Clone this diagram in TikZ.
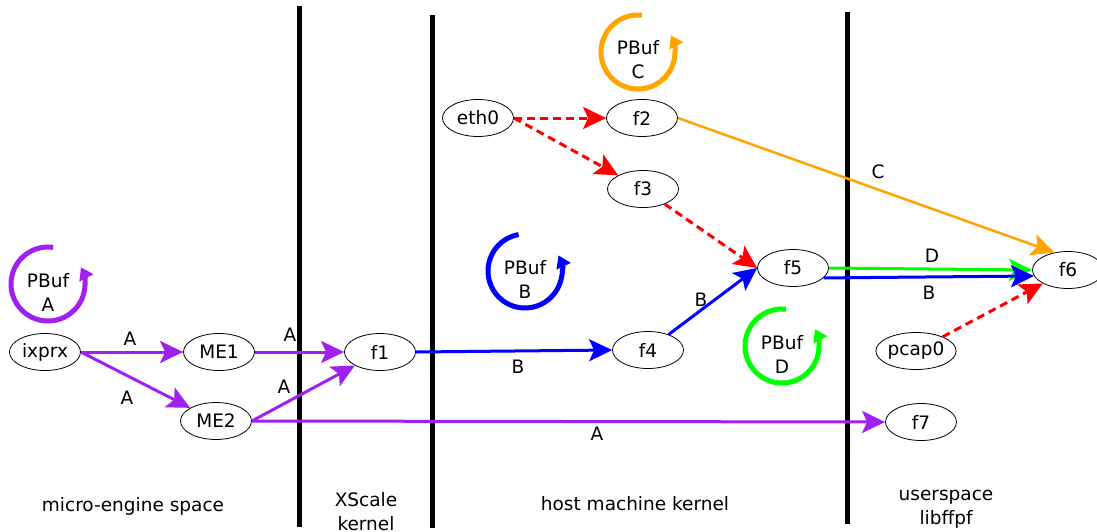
\documentclass[tikz,border=0pt]{standalone}
\usepackage{fontspec}
\setmainfont{DejaVu Sans}
\usetikzlibrary{arrows.meta,shapes.geometric}
\definecolor{cpurple}{HTML}{A020F0}
\definecolor{cblue}{HTML}{0000FF}
\definecolor{cred}{HTML}{FF0000}
\definecolor{corange}{HTML}{FFA500}
\definecolor{cgreen}{HTML}{00FF00}
\newcommand\pbufring[6]{% color, x, y, label, start, end (visual degrees)
  \draw[ring, #1] (#2,#3) ++(-#5:37) arc[start angle=-#5, end angle=-#6, radius=37];
  \node[ringtext] at (#2,#3+8) {PBuf\\#4};
}
\begin{document}
\begin{tikzpicture}[x=1pt,y=-1pt,
  font=\fontsize{18.5}{24}\selectfont,
  nd/.style={draw, ellipse, minimum width=71pt, minimum height=37pt, inner sep=0pt, line width=0.8pt},
  ed/.style={line width=3pt, -{Stealth[length=23pt,width=22pt,inset=5pt]}},
  dsh/.style={ed, cred, dash pattern=on 8pt off 5pt},
  wall/.style={line width=5pt, black},
  ring/.style={line width=5pt, -{Triangle[length=12pt,width=15pt]}},
  ringtext/.style={align=center, inner sep=0pt},
  lbl/.style={inner sep=0pt, align=center}]
\useasboundingbox (0,0) rectangle (1097,531);

% walls
\coordinate (w1t) at (299,6);   \coordinate (w1b) at (299,527);
\coordinate (w2t) at (432,15);  \coordinate (w2b) at (432,528);
\coordinate (w3t) at (847,12);  \coordinate (w3b) at (847,524);
\draw[wall] (w1t) -- (w1b);
\draw[wall] (w2t) -- (w2b);
\draw[wall] (w3t) -- (w3b);

% nodes
\node[nd] (ixprx) at (45,352) {ixprx};
\node[nd] (ME1) at (219,352) {ME1};
\node[nd] (ME2) at (216,421) {ME2};
\node[nd] (f1) at (380,352) {f1};
\node[nd] (eth0) at (478,118) {eth0};
\node[nd] (f2) at (642,118) {f2};
\node[nd] (f3) at (643,189) {f3};
\node[nd] (f4) at (648,350) {f4};
\node[nd] (f5) at (793,268) {f5};
\node[nd] (f6) at (1068,270) {f6};
\node[nd] (pcap0) at (916,351) {pcap0};
\node[nd] (f7) at (921,422) {f7};

% rings
\pbufring{cpurple}{48}{284}{A}{82}{387}
\pbufring{cblue}{525}{271}{B}{100}{385}
\pbufring{corange}{638}{52}{C}{84}{387}
\pbufring{cgreen}{782}{346}{D}{84}{387}

% edges
\draw[ed, cpurple] (ixprx.east) -- (ME1.west);
\draw[ed, cpurple] (ixprx.east) -- (ME2);
\draw[ed, cpurple] (ME1.east) -- (f1.west);
\draw[ed, cpurple] (ME2.east) -- (f1);
\draw[ed, cpurple] (ME2.east) -- (f7.west);
\draw[ed, cblue] (f1.east) -- (f4.west);
\draw[ed, cblue] (f4) -- (f5.west);
\draw[ed, cgreen] (f5.east) -- (f6.west);
\draw[ed, cblue] (f5.-18) -- (f6.190);
\draw[ed, corange, line width=2.5pt] (f2.east) -- (f6.128);
\draw[dsh] (eth0.east) -- (f2.west);
\draw[dsh] (eth0.east) -- (f3);
\draw[dsh] (f3) -- (f5.west);
\draw[dsh] (pcap0) -- (f6);

% edge labels
\node[lbl] (la1) at (130,339) {A};
\node[lbl] (la2) at (127,398) {A};
\node[lbl] (la3) at (290,335) {A};
\node[lbl] (la4) at (284,387) {A};
\node[lbl] (la5) at (597,434) {A};
\node[lbl] (lb1) at (518,367) {B};
\node[lbl] (lb2) at (701,300) {B};
\node[lbl] (lb3) at (929,293) {B};
\node[lbl] (ld1) at (932,256) {D};
\node[lbl] (lc1) at (878,172) {C};

% region labels
\node[lbl] (r1) at (133,506) {micro-engine space};
\node[lbl] (r2) at (366,512) {XScale\\kernel};
\node[lbl] (r3) at (635,504) {host machine kernel};
\node[lbl, text depth=0pt] (r4) at (946,507) {userspace\\libffpf};
\end{tikzpicture}
\end{document}
